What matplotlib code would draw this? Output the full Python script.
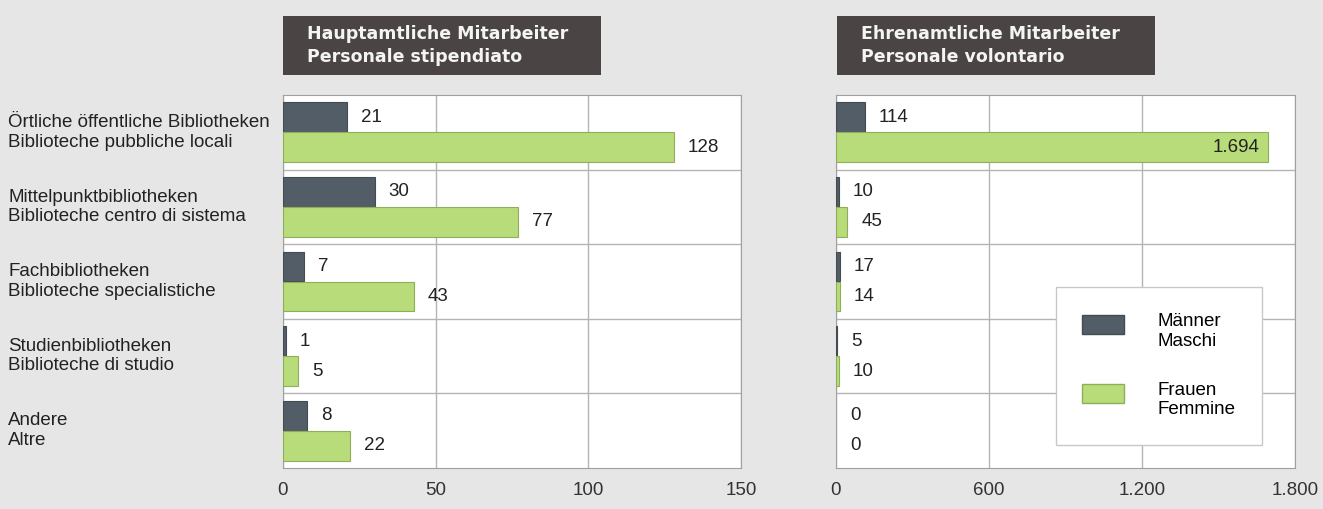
"""Library staff by gender: paid vs. volunteer, horizontal grouped bars."""

import matplotlib
matplotlib.use("Agg")
import matplotlib.pyplot as plt
from matplotlib.legend_handler import HandlerPatch
from matplotlib.patches import Patch, Rectangle
import numpy as np

plt.rcParams["font.family"] = ["Liberation Sans", "DejaVu Sans"]

categories = [
    "Örtliche öffentliche Bibliotheken\nBiblioteche pubbliche locali",
    "Mittelpunktbibliotheken\nBiblioteche centro di sistema",
    "Fachbibliotheken\nBiblioteche specialistiche",
    "Studienbibliotheken\nBiblioteche di studio",
    "Andere\nAltre",
]
paid_men = [21, 30, 7, 1, 8]
paid_women = [128, 77, 43, 5, 22]
vol_men = [114, 10, 17, 5, 0]
vol_women = [1694, 45, 14, 10, 0]

paid_ticks = [0, 50, 100, 150]
vol_ticks = [0, 600, 1200, 1800]

titles = [
    "Hauptamtliche Mitarbeiter\nPersonale stipendiato",
    "Ehrenamtliche Mitarbeiter\nPersonale volontario",
]
legend_labels = ["Männer\nMaschi", "Frauen\nFemmine"]

BG = "#e6e6e6"
MEN = "#535d67"
WOMEN = "#b8dc7a"
TITLE_BG = "#4a4544"
GRID = "#b4b4b4"
FS = 13.5

W, H = 1323, 509


def fig_rect(x0, y0, x1, y1):
    """Pixel box (top-left origin) -> figure fraction [l, b, w, h]."""
    return [x0 / W, 1 - y1 / H, (x1 - x0) / W, (y1 - y0) / H]


def fmt(v):
    return f"{v:,}".replace(",", ".")


def top_aligned_patch(legend, orig_handle, xdescent, ydescent, width, height, fontsize):
    # legend swatch sits level with the first text line, not centred on both
    return Rectangle((-xdescent, -ydescent + 5), width, height)


fig = plt.figure(figsize=(W / 100, H / 100), dpi=100, facecolor=BG)

panels = [
    (fig_rect(283, 95, 741, 468), paid_men, paid_women, paid_ticks, (283, 601)),
    (fig_rect(836, 95, 1295, 468), vol_men, vol_women, vol_ticks, (837, 1155)),
]

y = np.arange(len(categories))
for i, (rect, men, women, ticks, tbox) in enumerate(panels):
    ax = fig.add_axes(rect)
    ax.set_facecolor("white")
    xmax = ticks[-1]
    ax.barh(y - 0.2, men, height=0.4, color=MEN, edgecolor="#444b52",
            linewidth=[0.8 if v else 0 for v in men], zorder=3)
    ax.barh(y + 0.2, women, height=0.4, color=WOMEN, edgecolor="#8fae5a",
            linewidth=[0.8 if v else 0 for v in women], zorder=3)
    ax.set_xlim(0, xmax)
    ax.set_ylim(len(categories) - 0.5, -0.5)
    ax.set_xticks(ticks)
    ax.set_xticklabels([fmt(t) for t in ticks], fontsize=FS, color="#333333")
    ax.set_yticks(np.arange(len(categories) - 1) + 0.5, minor=True)
    ax.set_yticks([])
    ax.tick_params(axis="x", length=0, pad=10)
    ax.tick_params(axis="y", which="both", length=0)
    ax.grid(axis="x", color=GRID, lw=1, zorder=1)
    ax.grid(axis="y", which="minor", color=GRID, lw=1, zorder=1)
    for s in ax.spines.values():
        s.set_color("#a0a0a0")

    off = xmax * 0.03
    for yy, v in zip(y, men):
        ax.text(v + off, yy - 0.2, fmt(v), va="center", ha="left", fontsize=FS, color="#222222")
    for yy, v in zip(y, women):
        if v > xmax * 0.9:
            ax.text(v - off * 0.6, yy + 0.2, fmt(v), va="center", ha="right", fontsize=FS, color="#222222")
        else:
            ax.text(v + off, yy + 0.2, fmt(v), va="center", ha="left", fontsize=FS, color="#222222")

    if i == 0:
        for yy, lab in zip(y, categories):
            ax.text(-275 / 458 * xmax, yy, lab, va="center", ha="left", fontsize=FS,
                    color="#222222", linespacing=1.2, clip_on=False)

    # dark title box
    x0, x1 = tbox
    fig.patches.append(Rectangle((x0 / W, 1 - 75 / H), (x1 - x0) / W, 59 / H,
                                 transform=fig.transFigure, facecolor=TITLE_BG,
                                 edgecolor="none", zorder=0))
    fig.text((x0 + 24) / W, 1 - 45.5 / H, titles[i], color="#f4f4f4", fontsize=12.5,
             family="DejaVu Sans", fontweight="bold", va="center", ha="left",
             linespacing=1.35)

    if i == 1:
        handles = [Patch(facecolor=MEN, edgecolor="#444b52"),
                   Patch(facecolor=WOMEN, edgecolor="#8fae5a")]
        leg = ax.legend(handles, legend_labels, loc="upper left",
                        bbox_to_anchor=(1056 / W, 1 - 287 / H),
                        bbox_transform=fig.transFigure, fontsize=FS,
                        handler_map={Patch: HandlerPatch(patch_func=top_aligned_patch)},
                        handlelength=2.24, handleheight=1.15, handletextpad=1.76,
                        labelspacing=1.7, borderpad=1.4, borderaxespad=0,
                        fancybox=False, framealpha=1, edgecolor="#c8c8c8")
        leg.get_frame().set_linewidth(1)

fig.savefig("out.png", dpi=100, facecolor=BG)
